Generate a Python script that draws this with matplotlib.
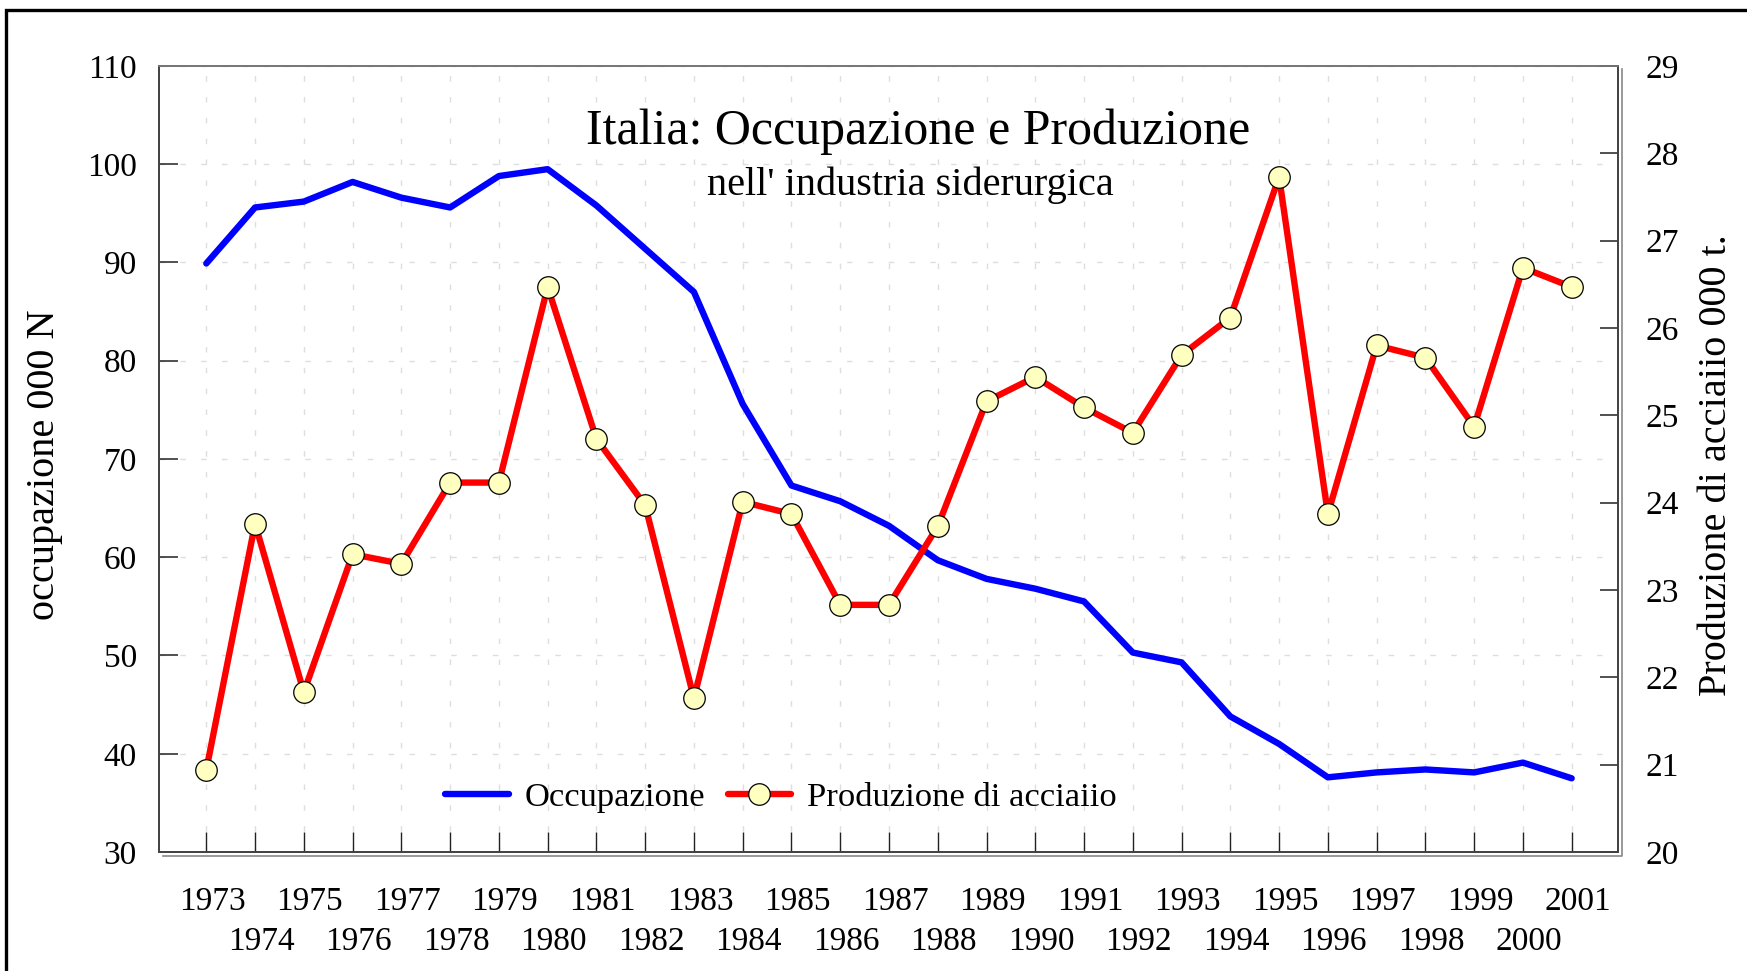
import matplotlib
matplotlib.use('Agg')
import matplotlib.pyplot as plt
from matplotlib.transforms import ScaledTranslation
from matplotlib.lines import Line2D
from matplotlib.patches import Rectangle

# ---------------- data ----------------
years = list(range(1973, 2002))
occupazione = [89.9, 95.6, 96.2, 98.2, 96.6, 95.6, 98.8, 99.5, 95.8, 91.4,
               87.0, 75.6, 67.3, 65.7, 63.2, 59.7, 57.8, 56.8, 55.5, 50.3,
               49.3, 43.8, 41.0, 37.6, 38.1, 38.4, 38.1, 39.1, 37.5]
produzione = [20.94, 23.76, 21.83, 23.41, 23.30, 24.23, 24.23, 26.47, 24.73, 23.97,
              21.76, 24.01, 23.87, 22.83, 22.83, 23.73, 25.16, 25.44, 25.09, 24.80,
              25.69, 26.12, 27.73, 23.87, 25.80, 25.66, 24.87, 26.69, 26.47]
left_ticks = [30, 40, 50, 60, 70, 80, 90, 100, 110]
right_ticks = [20, 21, 22, 23, 24, 25, 26, 27, 28, 29]
year_labels = [str(y) for y in years]

title = "Italia: Occupazione e Produzione"
subtitle = "nell' industria siderurgica"
ylabel_left = "occupazione 000 N"
ylabel_right = "Produzione di acciaiio 000 t."
legend_labels = ["Occupazione", "Produzione di acciaiio"]

# ---------------- figure ----------------
plt.rcParams['font.family'] = ['Liberation Serif', 'DejaVu Serif']
W, H = 1747, 971
fig = plt.figure(figsize=(W / 100, H / 100), dpi=100)
fig.patch.set_facecolor('white')

ax = fig.add_axes([159 / W, 1 - 852 / H, (1618 - 159) / W, (852 - 66) / H])
ax2 = ax.twinx()

ax.set_xlim(1972.03, 2001.95)
ax.set_ylim(30, 110)
ax2.set_ylim(20, 29)

# grid
ax.set_axisbelow(True)
ax.set_xticks(years)
ax.set_yticks(left_ticks)
ax.grid(True, color='#dedede', linestyle=(0, (4, 11)), linewidth=1.0)

# lines
l1, = ax.plot(years, occupazione, color='#0000ff', lw=4.6,
              solid_joinstyle='round', solid_capstyle='round', zorder=3)
l2, = ax2.plot(years, produzione, color='#ff0000', lw=4.6,
               solid_joinstyle='round', solid_capstyle='round',
               marker='o', ms=15.5, mfc='#ffffc0', mec='black', mew=0.9, zorder=3)

# ticks
ax.tick_params(axis='y', direction='in', length=14, width=1.1, color='#222222',
               labelsize=24, pad=16, right=False)
ax.tick_params(axis='x', direction='in', length=14.5, width=1.0, color='#222222',
               labelbottom=False, top=False)
ax2.set_yticks(right_ticks)
ax2.tick_params(axis='y', direction='in', length=13, width=1.1, color='#222222',
                labelsize=24, pad=20)

for a in (ax, ax2):
    for s in a.spines.values():
        s.set_color('#444444')
        s.set_linewidth(1.3)
    a.spines['top'].set_color('#777777')

# shadow lines for the bottom and right edges
shadow = ax.transAxes + ScaledTranslation(3.5 / 100, -3.5 / 100, fig.dpi_scale_trans)
ax.add_line(Line2D([0, 1, 1], [0, 0, 1], transform=shadow, color='#888888',
                   lw=1.2, clip_on=False))

# year labels (two rows)
for i, (yr, lab) in enumerate(zip(years, year_labels)):
    row = 0 if yr % 2 == 1 else 1
    tr = ax.get_xaxis_transform() + ScaledTranslation(6 / 100, -(58 + 40 * row) / 100,
                                                      fig.dpi_scale_trans)
    ax.text(yr, 0, lab, transform=tr, ha='center', va='baseline', fontsize=24)

# titles
fig.text(918 / W, 1 - 144 / H, title, ha='center', va='baseline', fontsize=36)
fig.text(910 / W, 1 - 195 / H, subtitle, ha='center', va='baseline', fontsize=29)

# axis labels
fig.text(45 / W, 1 - 465 / H, ylabel_left, rotation=90, ha='center', va='center',
         fontsize=29)
fig.text(1717 / W, 1 - 465 / H, ylabel_right, rotation=90, ha='center', va='center',
         fontsize=29)

# legend
fig.legend([l1, l2], legend_labels, loc='center',
           bbox_to_anchor=(781 / W, 1 - 797 / H), ncol=2, frameon=False,
           fontsize=24.8, handlelength=1.85, handletextpad=0.45, columnspacing=0.65,
           borderpad=0, numpoints=1)

# outer frame
fig.patches.append(Rectangle((6 / W, -0.2), 2.0, 0.2 + 1 - 10.5 / H,
                             transform=fig.transFigure, fill=False,
                             edgecolor='black', lw=2.4))

fig.savefig('out.png', dpi=100)
